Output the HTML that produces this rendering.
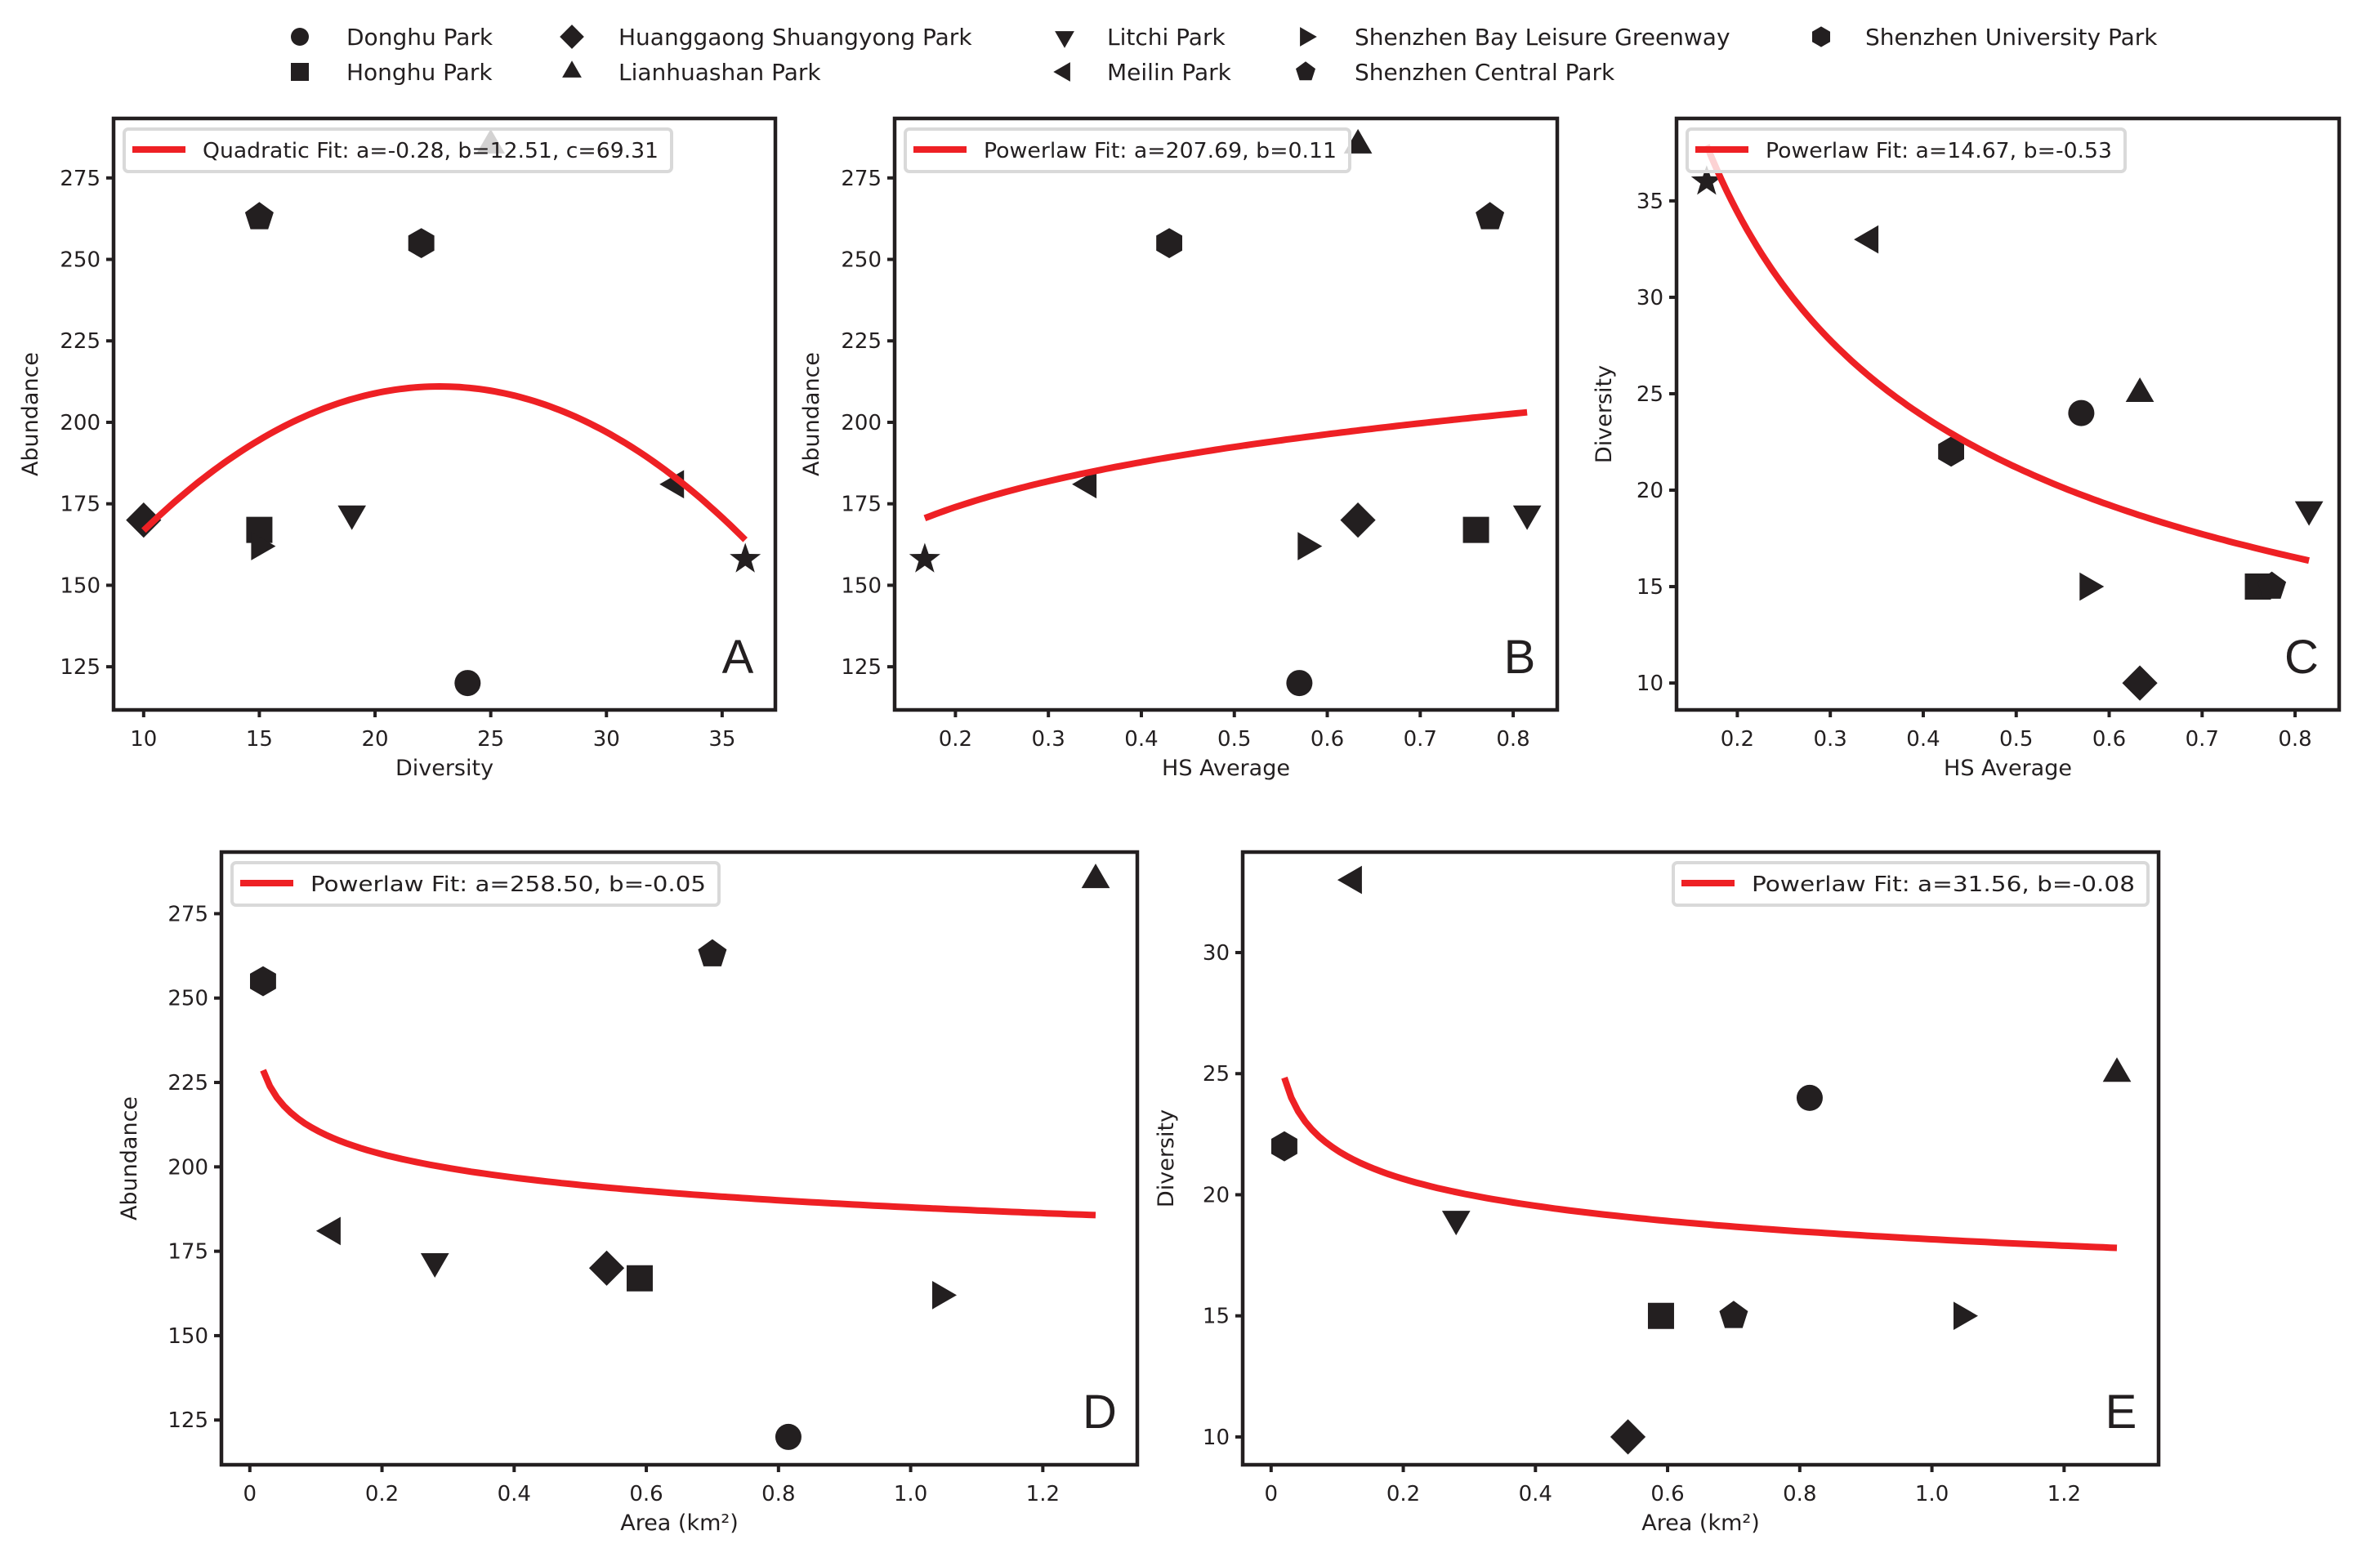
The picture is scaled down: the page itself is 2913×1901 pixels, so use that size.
<!DOCTYPE html>
<html><head><meta charset="utf-8">
<style>
html,body{margin:0;padding:0;background:#fff;}
svg{display:block;font-family:"DejaVu Sans","Liberation Sans",sans-serif;}
</style></head>
<body>
<svg id="fig" width="2913" height="1901" viewBox="0 0 2913 1901" xmlns="http://www.w3.org/2000/svg"></svg>
<script>
// ---- data ----
const parks = ["Donghu Park","Honghu Park","Huanggaong Shuangyong Park","Lianhuashan Park","Litchi Park","Meilin Park","Shenzhen Bay Leisure Greenway","Shenzhen Central Park","Shenzhen University Park","Unlisted Park"];
const markers = ["o","s","D","^","v","<",">","p","h","*"];
const diversity = [24,15,10,25,19,33,15,15,22,36];
const abundance = [120,167,170,285,172,181,162,263,255,158];
const hsAverage = [0.57,0.76,0.633,0.633,0.815,0.343,0.577,0.775,0.43,0.167];
const area = [0.815,0.59,0.54,1.28,0.28,0.125,1.045,0.70,0.02,null];
const quadFitA = [-0.27,12.31,70.7];
const powFitB = [207.69,0.11];
const powFitC = [14.67,-0.53];
const powFitD = [188.0,-0.05];
const powFitE = [18.16,-0.08];
const ticksAbd = [125,150,175,200,225,250,275];
const ticksDivA = [10,15,20,25,30,35];
const ticksHS = [0.2,0.3,0.4,0.5,0.6,0.7,0.8];
const ticksDivC = [10,15,20,25,30,35];
const ticksDivE = [10,15,20,25,30];
const ticksArea = [0,0.2,0.4,0.6,0.8,1.0,1.2];
const labelsArea = ["0","0.2","0.4","0.6","0.8","1.0","1.2"];
const legendA = "Quadratic Fit: a=-0.28, b=12.51, c=69.31";
const legendB = "Powerlaw Fit: a=207.69, b=0.11";
const legendC = "Powerlaw Fit: a=14.67, b=-0.53";
const legendD = "Powerlaw Fit: a=258.50, b=-0.05";
const legendE = "Powerlaw Fit: a=31.56, b=-0.08";

const NS="http://www.w3.org/2000/svg";
const svg=document.getElementById('fig');
const INK="#231f20", RED="#ee2024";
function mk(tag,attrs,parent){const e=document.createElementNS(NS,tag);for(const k in attrs)e.setAttribute(k,attrs[k]);(parent||svg).appendChild(e);return e;}
function ext(a,pad){const v=a.filter(x=>x!=null);const lo=Math.min(...v),hi=Math.max(...v),m=(hi-lo)*pad;return [lo-m,hi+m];}

function markerPath(t,cx,cy,s){
  const pts=(n,r,rot)=>{let p=[];for(let i=0;i<n;i++){const a=rot+i*2*Math.PI/n;p.push((cx+r*Math.cos(a)).toFixed(1)+","+(cy+r*Math.sin(a)).toFixed(1));}return "M"+p.join("L")+"Z";};
  switch(t){
    case "o": return `M${cx-s},${cy}a${s},${s} 0 1,0 ${2*s},0a${s},${s} 0 1,0 ${-2*s},0Z`;
    case "s": return `M${cx-s},${cy-s}h${2*s}v${2*s}h${-2*s}Z`;
    case "D": return `M${cx},${cy-s*1.35}L${cx+s*1.35},${cy}L${cx},${cy+s*1.35}L${cx-s*1.35},${cy}Z`;
    case "^": return pts(3,s*1.25,-Math.PI/2);
    case "v": return pts(3,s*1.25,Math.PI/2);
    case "<": return pts(3,s*1.25,Math.PI);
    case ">": return pts(3,s*1.25,0);
    case "p": return pts(5,s*1.15,-Math.PI/2);
    case "h": return pts(6,s*1.15,-Math.PI/2);
    case "*": {let p=[];for(let i=0;i<10;i++){const r=i%2?s*0.5:s*1.25;const a=-Math.PI/2+i*Math.PI/5;p.push((cx+r*Math.cos(a)).toFixed(1)+","+(cy+r*Math.sin(a)).toFixed(1));}return "M"+p.join("L")+"Z";}
  }
}

function panel(cfg){
  const g=mk('g',{});
  
  
  const [L,T,R,B]=cfg.box;
  // compute limits including fit curve
  const fitVals=[];
  for(let k=0;k<=120;k++){const xv=cfg.fitRange[0]+(cfg.fitRange[1]-cfg.fitRange[0])*k/120;fitVals.push(cfg.fit(xv));}
  const [x0,x1]=ext(cfg.xs.filter((v,i)=>v!=null&&cfg.ys[i]!=null).concat(cfg.fitRange),0.05);
  const [y0,y1]=ext(cfg.ys.filter((v,i)=>v!=null&&cfg.xs[i]!=null).concat(fitVals),0.05);
  const sx=v=>L+(v-x0)/(x1-x0)*(R-L);
  const sy=v=>B-(v-y0)/(y1-y0)*(B-T);
  cfg.xticks.forEach((v,i)=>{
    const t=mk('line',{x1:sx(v),x2:sx(v),y1:B,y2:B+9,stroke:INK,'stroke-width':4},g);
    
    
    const tx=mk('text',{x:sx(v),y:B+44,'font-size':26,'text-anchor':'middle',fill:INK},g);
    tx.textContent=cfg.xlabels?cfg.xlabels[i]:String(v);
    
    
  });
  cfg.yticks.forEach(v=>{
    const t=mk('line',{x1:L-9,x2:L,y1:sy(v),y2:sy(v),stroke:INK,'stroke-width':4},g);
    
    
    const tx=mk('text',{x:L-16,y:sy(v)+9,'font-size':26,'text-anchor':'end',fill:INK},g);
    tx.textContent=String(v);
    
    
  });
  const xl=mk('text',{x:(L+R)/2,y:B+80,'font-size':27,'text-anchor':'middle',fill:INK},g);
  xl.textContent=cfg.xlabel;
  
  
  const ylx=L-cfg.ylOff;
  const yl=mk('text',{x:ylx,y:(T+B)/2,'font-size':27,'text-anchor':'middle',fill:INK,transform:`rotate(-90 ${ylx} ${(T+B)/2})`},g);
  yl.textContent=cfg.ylabel;
  
  
  for(let i=0;i<parks.length;i++){
    const xv=cfg.xs[i],yv=cfg.ys[i];
    if(xv==null||yv==null)continue;
    const p=mk('path',{d:markerPath(markers[i],sx(xv),sy(yv),16),fill:INK},g);
    
    
  }
  let d="";
  fitVals.forEach((yv,k)=>{
    const xv=cfg.fitRange[0]+(cfg.fitRange[1]-cfg.fitRange[0])*k/120;
    d+=(k?"L":"M")+sx(xv).toFixed(1)+","+sy(yv).toFixed(1);
  });
  const fl=mk('path',{d:d,fill:'none',stroke:RED,'stroke-width':8},g);
  
  
  const fr=mk('rect',{x:L,y:T,width:R-L,height:B-T,fill:'none',stroke:INK,'stroke-width':4.5},g);
  
  
  const lw=cfg.legW+112, lx=cfg.legRight?R-13-lw:L+13, ly=T+13;
  const lg=mk('g',{},g);
  
  
  mk('rect',{x:lx,y:ly,width:lw,height:52,rx:5,fill:'rgba(255,255,255,0.8)',stroke:'#d9d9d9','stroke-width':4},lg);
  mk('line',{x1:lx+10,x2:lx+75,y1:ly+25,y2:ly+25,stroke:RED,'stroke-width':8},lg);
  const lt=mk('text',{x:lx+96,y:ly+35,'font-size':26,fill:INK,textLength:cfg.legW,lengthAdjust:'spacingAndGlyphs'},lg);
  lt.textContent=cfg.legend;
  const lt2=mk('text',{x:R-46,y:B-45,'font-size':58,'text-anchor':'middle',fill:INK,'font-family':'Liberation Sans, sans-serif'},g);
  lt2.textContent=cfg.letter;
  
  
}

panel({letter:"A",box:[139,145,949,869],xs:diversity,ys:abundance,xticks:ticksDivA,yticks:ticksAbd,xlabel:"Diversity",ylabel:"Abundance",ylOff:93,
  fit:x=>quadFitA[0]*x*x+quadFitA[1]*x+quadFitA[2],fitRange:[10,36],legend:legendA,legW:558});
panel({letter:"B",box:[1095,145,1906,869],xs:hsAverage,ys:abundance,xticks:ticksHS,yticks:ticksAbd,xlabel:"HS Average",ylabel:"Abundance",ylOff:93,
  fit:x=>powFitB[0]*Math.pow(x,powFitB[1]),fitRange:[0.167,0.815],legend:legendB,legW:432});
panel({letter:"C",box:[2052,145,2863,869],xs:hsAverage,ys:diversity,xticks:ticksHS,yticks:ticksDivC,xlabel:"HS Average",ylabel:"Diversity",ylOff:80,
  fit:x=>powFitC[0]*Math.pow(x,powFitC[1]),fitRange:[0.167,0.815],legend:legendC,legW:424});
panel({letter:"D",box:[271,1043,1392,1793],xs:area,ys:abundance,xticks:ticksArea,xlabels:labelsArea,yticks:ticksAbd,xlabel:"Area (km²)",ylabel:"Abundance",ylOff:104,
  fit:x=>powFitD[0]*Math.pow(x,powFitD[1]),fitRange:[0.02,1.28],legend:legendD,legW:484});
panel({letter:"E",box:[1521,1043,2642,1793],xs:area,ys:diversity,xticks:ticksArea,xlabels:labelsArea,yticks:ticksDivE,xlabel:"Area (km²)",ylabel:"Diversity",ylOff:85,
  fit:x=>powFitE[0]*Math.pow(x,powFitE[1]),fitRange:[0.02,1.28],legend:legendE,legW:469,legRight:true});

const legCols=[[367,424],[700,757],[1303,1355],[1598,1658],[2229,2283]];
const legRows=[45,88];
const legOrder=[[0,0,0],[1,0,1],[2,1,0],[3,1,1],[4,2,0],[5,2,1],[6,3,0],[7,3,1],[8,4,0]];
const tg=mk('g',{});


legOrder.forEach(([i,c,r])=>{
  const y=legRows[r];
  const m=mk('path',{d:markerPath(markers[i],legCols[c][0],y,11),fill:INK},tg);
  
  
  const t=mk('text',{x:legCols[c][1],y:y+10,'font-size':28,fill:INK},tg);
  t.textContent=parks[i];
  
  
});
</script>
</body></html>
